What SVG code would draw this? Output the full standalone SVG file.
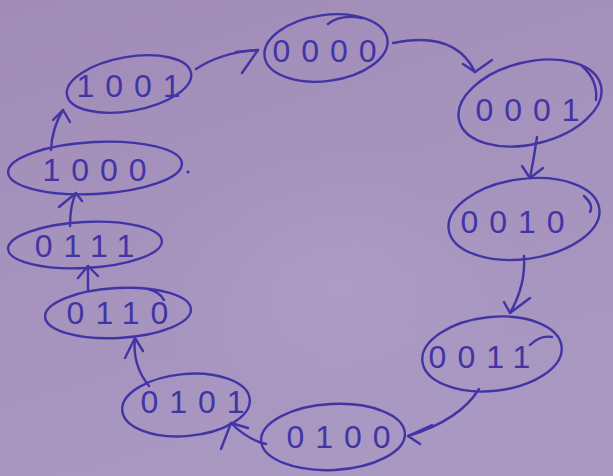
<svg xmlns="http://www.w3.org/2000/svg" width="613" height="476" viewBox="0 0 613 476">
  <defs>
    <linearGradient id="paper" x1="0" y1="0" x2="0.4" y2="1">
      <stop offset="0" stop-color="#a08cb7"/>
      <stop offset="0.5" stop-color="#a592bd"/>
      <stop offset="1" stop-color="#a998c1"/>
    </linearGradient>
    <radialGradient id="glow" cx="0.55" cy="0.6" r="0.3">
      <stop offset="0" stop-color="#b1a2c8" stop-opacity="0.5"/>
      <stop offset="1" stop-color="#b1a2c8" stop-opacity="0"/>
    </radialGradient>
    <style>
      .node ellipse, .node path { fill: none; stroke: #4334a6; stroke-width: 2.4; stroke-linecap: round; }
      .node text { font-family: "Liberation Sans", "DejaVu Sans", sans-serif; font-size: 32px; fill: #4334a6; letter-spacing: 11px; text-anchor: middle; dominant-baseline: central; }
      #connectors path { fill: none; stroke: #4334a6; stroke-width: 2.4; stroke-linecap: round; stroke-linejoin: round; }
    </style>
  </defs>

  <rect width="613" height="476" fill="url(#paper)"/>
  <rect width="613" height="476" fill="url(#glow)"/>

  <!-- states -->
  <g id="s0000" class="node">
    <ellipse cx="326" cy="48" rx="62" ry="33" transform="rotate(-8 326 48)"/>
    <path d="M328 24 Q340 14 362 18"/>
    <text x="330" y="51">0000</text>
  </g>
  <g id="s0001" class="node">
    <ellipse cx="530" cy="103" rx="73" ry="41" transform="rotate(-14 530 103)"/>
    <path d="M582 66 Q598 80 596 100"/>
    <text x="533" y="110">0001</text>
  </g>
  <g id="s0010" class="node">
    <ellipse cx="524" cy="219" rx="76" ry="40" transform="rotate(-8 524 219)"/>
    <path d="M584 196 Q594 205 590 212"/>
    <text x="518" y="222">0010</text>
  </g>
  <g id="s0011" class="node">
    <ellipse cx="492" cy="354" rx="70" ry="37" transform="rotate(-6 492 354)"/>
    <path d="M530 345 Q540 335 552 337"/>
    <text x="485" y="357">0011</text>
  </g>
  <g id="s0100" class="node">
    <ellipse cx="333" cy="437" rx="72" ry="33" transform="rotate(-3 333 437)"/>
    <text x="344" y="437">0100</text>
  </g>
  <g id="s0101" class="node">
    <ellipse cx="186" cy="405" rx="64" ry="31" transform="rotate(-5 186 405)"/>
    <text x="198" y="402">0101</text>
  </g>
  <g id="s0110" class="node">
    <ellipse cx="118" cy="313" rx="73" ry="25" transform="rotate(-3 118 313)"/>
    <path d="M148 289 Q160 292 164 300"/>
    <text x="123" y="313">0110</text>
  </g>
  <g id="s0111" class="node">
    <ellipse cx="85" cy="245" rx="77" ry="23" transform="rotate(-3 85 245)"/>
    <text x="90" y="246">0111</text>
  </g>
  <g id="s1000" class="node">
    <ellipse cx="95" cy="168" rx="87" ry="26" transform="rotate(-3 95 168)"/>
    <text x="100" y="170">1000</text>
    <circle cx="188" cy="172" r="1.6" fill="#4334a6"/>
  </g>
  <g id="s1001" class="node">
    <ellipse cx="129" cy="84" rx="63" ry="27" transform="rotate(-10 129 84)"/>
    <text x="134" y="86">1001</text>
  </g>

  <!-- transitions -->
  <g id="connectors">
    <!-- 1001 -> 0000 -->
    <path d="M196 69 Q222 52 258 50"/>
    <path d="M236 52 L258 50 L242 73"/>
    <!-- 0000 -> 0001 -->
    <path d="M393 43 Q455 30 475 72"/>
    <path d="M463 64 L475 72 L492 60"/>
    <!-- 0001 -> 0010 -->
    <path d="M537 137 Q534 158 530 178"/>
    <path d="M522 166 L530 178 L543 168"/>
    <!-- 0010 -> 0011 -->
    <path d="M524 256 Q526 285 510 313"/>
    <path d="M504 302 L510 313 L530 298"/>
    <!-- 0011 -> 0100 -->
    <path d="M479 389 Q460 420 408 436"/>
    <path d="M432 425 L408 436 L420 444"/>
    <!-- 0100 -> 0101 -->
    <path d="M266 444 Q248 440 231 423"/>
    <path d="M221 449 L231 423 L248 428"/>
    <!-- 0101 -> 0110 -->
    <path d="M149 386 Q132 365 135 338"/>
    <path d="M125 358 L135 338 L143 351"/>
    <!-- 0110 -> 0111 -->
    <path d="M88 291 L88 266"/>
    <path d="M78 278 L88 266 L98 276"/>
    <!-- 0111 -> 1000 -->
    <path d="M70 226 Q70 205 76 193"/>
    <path d="M59 207 L76 193 L82 201"/>
    <!-- 1000 -> 1001 -->
    <path d="M51 150 Q52 128 63 110"/>
    <path d="M53 120 L63 110 L70 122"/>
  </g>
</svg>
